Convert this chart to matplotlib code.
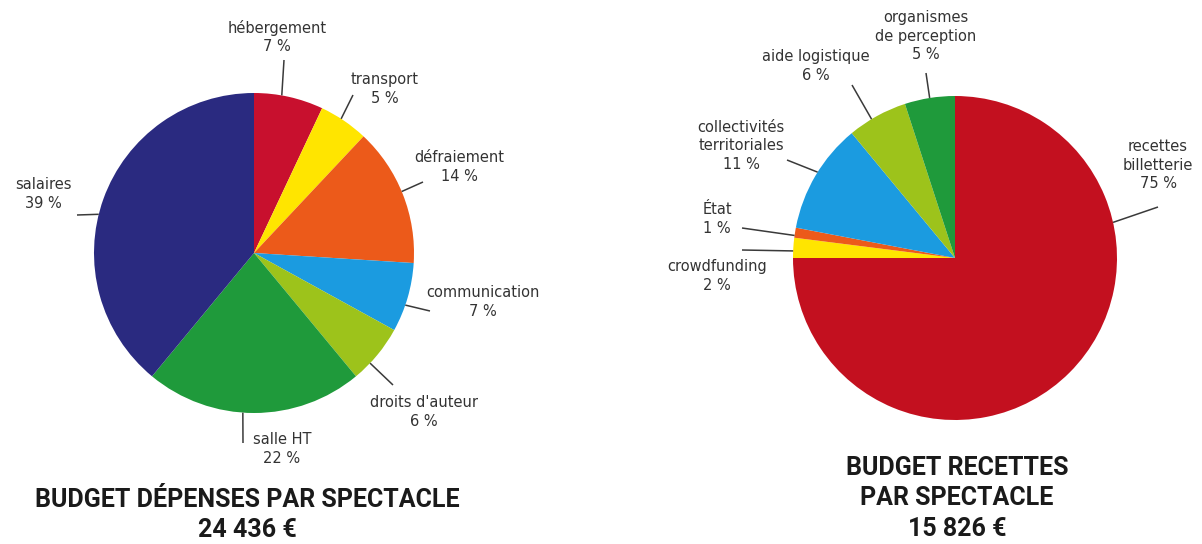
"""Two budget pies per show: expenses (left) and receipts (right)."""
import numpy as np
import matplotlib

matplotlib.use("Agg")
import matplotlib.pyplot as plt

W, H = 1202, 544

# expenses, clockwise from 12 o'clock
dep_labels = ["hébergement", "transport", "défraiement", "communication",
              "droits d'auteur", "salle HT", "salaires"]
dep_values = [7, 5, 14, 7, 6, 22, 39]
dep_colors = ["#c8102e", "#ffe500", "#ec5a1a", "#1b9be0", "#9dc31b",
              "#1f9a3b", "#2a2a80"]
dep_total = "24 436 €"

# receipts, clockwise from 12 o'clock
rec_labels = ["recettes\nbilletterie", "crowdfunding", "État",
              "collectivités\nterritoriales", "aide logistique",
              "organismes\nde perception"]
rec_values = [75, 2, 1, 11, 6, 5]
rec_colors = ["#c3101f", "#ffe500", "#ec5a1a", "#1b9be0", "#9dc31b",
              "#1f9a3b"]
rec_total = "15 826 €"

# label layout in pixels: (angle where the leader leaves the pie,
# leader end x, y, text centre x, y)
dep_layout = [
    (80, 284, 60, 277, 37),
    (57, 353, 95, 385, 89),
    (22.6, 423, 182, 459, 167),
    (-19, 430, 311, 483, 302),
    (-43.5, 393, 385, 424, 412),
    (-94, 243, 443, 282, 449),
    (166, 77, 215, 43, 194),
]
rec_layout = [
    (12.7, 1158, 207, 1158, 165),
    (177.5, 742, 250, 717, 276),
    (172, 742, 228, 717, 219),
    (148, 787, 160, 741, 146),
    (121, 852, 85, 816, 66),
    (99, 926, 73, 926, 36),
]

LABEL_FONT = ["DejaVu Sans"]
TITLE_FONT = ["Roboto", "DejaVu Sans"]


def py(y):
    # picture rows run downwards, the axes run upwards
    return H - y


def draw_pie(ax, values, labels, colors, layout, cx, cy, r):
    ax.pie(values, colors=colors, startangle=90, counterclock=False,
           center=(cx, py(cy)), radius=r,
           wedgeprops=dict(linewidth=0))
    for (ang, lx, ly, tx, ty), lab, val in zip(layout, labels, values):
        a = np.deg2rad(ang)
        sx, sy = cx + r * np.cos(a), py(cy) + r * np.sin(a)
        ax.plot([sx, lx], [sy, py(ly)], color="#3a3a3a", lw=1.1,
                solid_capstyle="butt")
        ax.text(tx, py(ty), f"{lab}\n{val} %", ha="center", va="center",
                fontsize=10.5, color="#333333", family=LABEL_FONT,
                linespacing=1.3)


fig = plt.figure(figsize=(W / 100, H / 100), dpi=100)
ax = fig.add_axes([0, 0, 1, 1])

draw_pie(ax, dep_values, dep_labels, dep_colors, dep_layout, 254, 253, 160)
draw_pie(ax, rec_values, rec_labels, rec_colors, rec_layout, 955, 258, 162)

title_kw = dict(ha="center", va="center", fontsize=18, fontweight="bold",
                color="#1a1a1a", family=TITLE_FONT)
ax.text(247, py(500), "BUDGET DÉPENSES PAR SPECTACLE", **title_kw)
ax.text(247, py(530), dep_total, **title_kw)
ax.text(957, py(468), "BUDGET RECETTES", **title_kw)
ax.text(957, py(498), "PAR SPECTACLE", **title_kw)
ax.text(957, py(529), rec_total, **title_kw)

ax.set_xlim(0, W)
ax.set_ylim(0, H)
ax.set_aspect("equal")
ax.axis("off")

fig.savefig("out.png", dpi=100)
